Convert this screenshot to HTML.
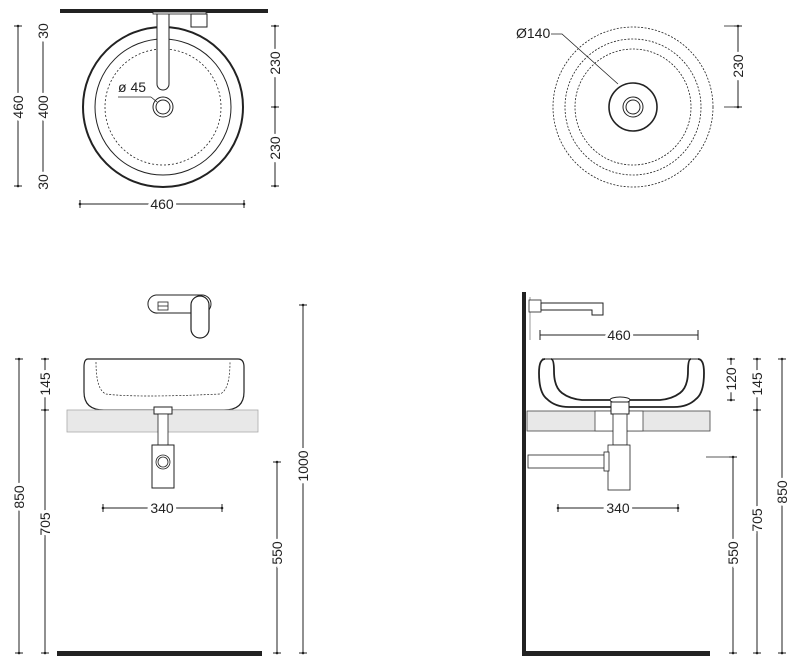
<!DOCTYPE html>
<html><head><meta charset="utf-8"><style>
html,body{margin:0;padding:0;background:#fff;}
svg{display:block;}
text{font-family:"Liberation Sans",sans-serif;font-size:14px;fill:#222;}
</style></head><body>
<svg width="800" height="663" viewBox="0 0 800 663" xmlns="http://www.w3.org/2000/svg">
<defs>
<g id="tk"><line x1="-4" y1="0" x2="4" y2="0" stroke="#222" stroke-width="1"/><circle r="1.3" fill="#222"/></g>
<g id="tv"><line x1="0" y1="-4" x2="0" y2="4" stroke="#222" stroke-width="1"/><circle r="1.3" fill="#222"/></g>
</defs>
<g stroke="#222" fill="none">
<!-- TOP LEFT -->
<rect x="60" y="9" width="208" height="4" fill="#222" stroke="none"/>
<circle cx="163" cy="107" r="80" stroke-width="2"/>
<circle cx="163" cy="107" r="68" stroke-width="1"/>
<circle cx="163" cy="107" r="58" stroke-width="0.8" stroke-dasharray="2,2"/>
<circle cx="163" cy="107" r="10" stroke-width="1"/>
<circle cx="163" cy="107" r="7" stroke-width="1"/>
<path d="M157 13 V84 a6 6 0 0 0 12 0 V13" fill="#fff" stroke-width="1"/>
<rect x="153" y="12" width="53" height="2" fill="#fff" stroke-width="0.8"/>
<rect x="191" y="14" width="16" height="13" stroke-width="1"/>
<line x1="118" y1="97" x2="151" y2="97" stroke-width="0.8"/>
<line x1="151" y1="97" x2="157" y2="102" stroke-width="0.8"/>
<line x1="18" y1="26" x2="18" y2="186" stroke-width="1"/>
<line x1="43" y1="26" x2="43" y2="186" stroke-width="1"/>
<line x1="275" y1="26" x2="275" y2="186" stroke-width="1"/>
<line x1="80" y1="204" x2="244" y2="204" stroke-width="1"/>
<!-- TOP RIGHT -->
<circle cx="633" cy="107" r="80" stroke-width="0.8" stroke-dasharray="2,1.5"/>
<circle cx="633" cy="107" r="68" stroke-width="0.8" stroke-dasharray="2,1.5"/>
<circle cx="633" cy="107" r="58" stroke-width="0.8" stroke-dasharray="2,1.5"/>
<circle cx="633" cy="107" r="24" stroke-width="1.6"/>
<circle cx="633" cy="107" r="10" stroke-width="1"/>
<circle cx="633" cy="107" r="7" stroke-width="1"/>
<polyline points="551,34 562,34 618,84" stroke-width="0.8"/>
<line x1="738" y1="26" x2="738" y2="107" stroke-width="1"/>
<line x1="724" y1="26" x2="738" y2="26" stroke-width="0.8"/>
<line x1="724" y1="107" x2="738" y2="107" stroke-width="0.8"/>
<!-- BOTTOM LEFT -->
<path d="M156 295 H202 a9 9 0 0 1 9 9 a9 9 0 0 1 -9 9 H158 a9 9 0 0 1 -2 -18 z" stroke-width="1" fill="#fff"/>
<rect x="191" y="296" width="18" height="42" rx="9" fill="#fff" stroke-width="1.2"/>
<rect x="158" y="302" width="10" height="8" stroke-width="0.8"/>
<line x1="158" y1="306" x2="168" y2="306" stroke-width="0.8"/>
<path d="M88 359 H238 q6 0 6 8 V392 q0 18 -20 18 H104 q-20 0 -20 -18 V367 q0 -8 4 -8 z" stroke-width="1.2" fill="#fff"/>
<path d="M96 362 q0 28 10 32 q30 4 114 0 q10 -4 10 -32" stroke-width="0.7" stroke-dasharray="2,1.5"/>
<rect x="67" y="410" width="191" height="22" fill="#e8e8e8" stroke="#aaa" stroke-width="0.8"/>
<rect x="154" y="407" width="18" height="7" fill="#fff" stroke-width="1"/>
<rect x="158" y="414" width="10" height="31" fill="#fff" stroke-width="0.8"/>
<rect x="152" y="445" width="22" height="43" fill="#fff" stroke-width="1"/>
<circle cx="163" cy="462" r="7" stroke-width="0.8"/>
<circle cx="163" cy="462" r="5" stroke-width="0.8"/>
<line x1="103" y1="508" x2="222" y2="508" stroke-width="1"/>
<rect x="57" y="651" width="205" height="5" fill="#222" stroke="none"/>
<line x1="19" y1="359" x2="19" y2="654" stroke-width="1"/>
<line x1="45" y1="359" x2="45" y2="654" stroke-width="1"/>
<line x1="277" y1="462" x2="277" y2="654" stroke-width="1"/>
<line x1="303" y1="305" x2="303" y2="654" stroke-width="1"/>
<!-- BOTTOM RIGHT -->
<rect x="522" y="292" width="4" height="364" fill="#222" stroke="none"/>
<rect x="522" y="651" width="188" height="5" fill="#222" stroke="none"/>
<line x1="530" y1="297" x2="530" y2="340" stroke="#999" stroke-width="1"/>
<rect x="529" y="300" width="12" height="12" fill="#fff" stroke-width="0.8"/>
<path d="M541 303 H603 V315 H592 V310 H541 z" fill="#fff" stroke-width="1"/>
<line x1="540" y1="335" x2="698" y2="335" stroke-width="1"/>
<line x1="540" y1="330" x2="540" y2="340" stroke-width="1"/>
<line x1="698" y1="330" x2="698" y2="340" stroke-width="1"/>
<line x1="542" y1="359" x2="698" y2="359" stroke-width="1"/>
<path d="M545 359 q-6 0 -6 14 q0 20 8 26 q8 8 22 8 H674 q14 0 22 -8 q8 -6 8 -26 q0 -14 -6 -14" stroke-width="1.8" fill="none"/>
<path d="M551 359 q3 0 3 12 q0 16 8 22 q8 6 20 7 H660 q12 -1 20 -7 q8 -6 8 -22 q0 -12 3 -12" stroke-width="1.8" fill="none"/>
<rect x="527" y="411" width="183" height="20" fill="#e8e8e8" stroke="#444" stroke-width="0.8"/>
<rect x="595" y="411" width="48" height="20" fill="#fff" stroke="#444" stroke-width="0.8"/>
<ellipse cx="620" cy="400" rx="10" ry="3" fill="#fff" stroke-width="1"/>
<rect x="611" y="402" width="18" height="12" fill="#fff" stroke-width="1"/>
<rect x="613" y="414" width="14" height="31" fill="#fff" stroke-width="0.8"/>
<rect x="608" y="445" width="22" height="45" fill="#fff" stroke-width="0.8"/>
<rect x="528" y="455" width="78" height="13" fill="#fff" stroke-width="0.8"/>
<rect x="604" y="452" width="5" height="19" fill="#fff" stroke-width="0.8"/>
<line x1="558" y1="508" x2="678" y2="508" stroke-width="1"/>
<line x1="706" y1="457" x2="731" y2="457" stroke-width="0.8"/>
<line x1="733" y1="457" x2="733" y2="654" stroke-width="1"/>
<line x1="731" y1="359" x2="731" y2="400" stroke-width="1"/>
<line x1="757" y1="359" x2="757" y2="654" stroke-width="1"/>
<line x1="782" y1="359" x2="782" y2="654" stroke-width="1"/>
</g>
<use href="#tk" x="18" y="26"/><use href="#tk" x="18" y="186"/>
<use href="#tk" x="43" y="26"/><use href="#tk" x="43" y="39"/><use href="#tk" x="43" y="175"/><use href="#tk" x="43" y="186"/>
<use href="#tk" x="275" y="26"/><use href="#tk" x="275" y="107"/><use href="#tk" x="275" y="186"/>
<use href="#tv" x="80" y="204"/><use href="#tv" x="244" y="204"/>
<use href="#tk" x="738" y="26"/><use href="#tk" x="738" y="107"/>
<use href="#tk" x="19" y="359"/><use href="#tk" x="19" y="653"/>
<use href="#tk" x="45" y="359"/><use href="#tk" x="45" y="410"/><use href="#tk" x="45" y="653"/>
<use href="#tk" x="277" y="462"/><use href="#tk" x="277" y="653"/>
<use href="#tk" x="303" y="305"/><use href="#tk" x="303" y="653"/>
<use href="#tv" x="103" y="508"/><use href="#tv" x="222" y="508"/>
<use href="#tv" x="558" y="508"/><use href="#tv" x="678" y="508"/>
<use href="#tk" x="731" y="359"/><use href="#tk" x="731" y="400"/>
<use href="#tk" x="757" y="359"/><use href="#tk" x="757" y="410"/><use href="#tk" x="757" y="653"/>
<use href="#tk" x="782" y="359"/><use href="#tk" x="782" y="653"/>
<use href="#tk" x="733" y="457"/><use href="#tk" x="733" y="653"/>
<g>
<text x="118" y="92">ø 45</text>
<text x="162" y="209" text-anchor="middle" style="paint-order:stroke" stroke="#fff" stroke-width="6">460</text>
<text x="516" y="38" font-size="13">Ø140</text>
<text x="619" y="340" text-anchor="middle" stroke="#fff" stroke-width="6" style="paint-order:stroke">460</text>
<text x="162" y="513" text-anchor="middle" stroke="#fff" stroke-width="6" style="paint-order:stroke">340</text>
<text x="618" y="513" text-anchor="middle" stroke="#fff" stroke-width="6" style="paint-order:stroke">340</text>
</g>
<g text-anchor="middle" stroke="#fff" stroke-width="6" style="paint-order:stroke">
<text transform="translate(23,107) rotate(-90)">460</text>
<text transform="translate(48,107) rotate(-90)">400</text>
<text transform="translate(48,31) rotate(-90)" font-size="11">30</text>
<text transform="translate(48,182) rotate(-90)" font-size="11">30</text>
<text transform="translate(280,63) rotate(-90)">230</text>
<text transform="translate(280,148) rotate(-90)">230</text>
<text transform="translate(743,66) rotate(-90)">230</text>
<text transform="translate(24,497) rotate(-90)">850</text>
<text transform="translate(50,384) rotate(-90)">145</text>
<text transform="translate(50,524) rotate(-90)">705</text>
<text transform="translate(282,553) rotate(-90)">550</text>
<text transform="translate(308,466) rotate(-90)">1000</text>
<text transform="translate(736,379) rotate(-90)">120</text>
<text transform="translate(762,384) rotate(-90)">145</text>
<text transform="translate(762,520) rotate(-90)">705</text>
<text transform="translate(787,492) rotate(-90)">850</text>
<text transform="translate(738,553) rotate(-90)">550</text>
</g>
</svg>
</body></html>
